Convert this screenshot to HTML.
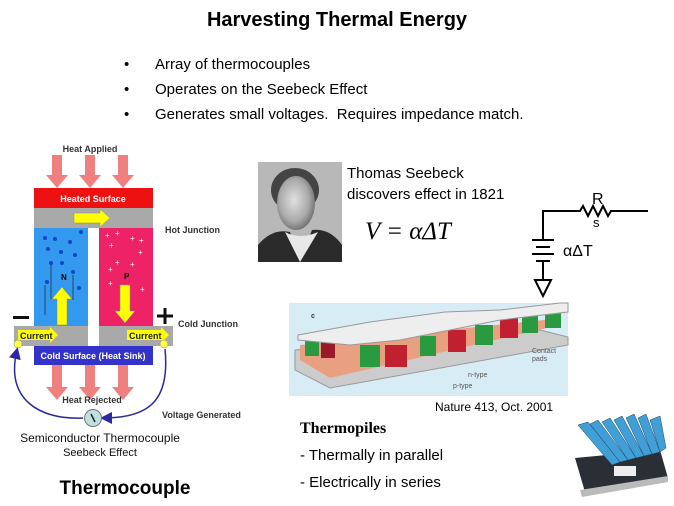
<!DOCTYPE html>
<html><head><meta charset="utf-8"><style>
body{margin:0;width:674px;height:506px;background:#fff;position:relative;overflow:hidden;font-family:"Liberation Sans",sans-serif}
.a{position:absolute;white-space:nowrap}
</style></head><body>
<div class="a" style="left:0;width:674px;top:9px;text-align:center;font-weight:bold;font-size:20px">Harvesting Thermal Energy</div>
<div class="a" style="left:124px;top:52px;font-size:15px;line-height:25px">•<br>•<br>•</div>
<div class="a" style="left:155px;top:52px;font-size:15px;line-height:25px">Array of thermocouples<br>Operates on the Seebeck Effect<br>Generates small voltages.&nbsp; Requires impedance match.</div>

<svg class="a" style="left:0;top:0" width="674" height="506">
<defs><marker id="m" markerWidth="8" markerHeight="8" refX="6" refY="4" orient="auto"><path d="M0,0L8,4L0,8z" fill="#2a2aa0"/></marker></defs>
<text x="90" y="152" font-size="9" font-weight="bold" text-anchor="middle" fill="#333">Heat Applied</text>
<g fill="#f08080">
<path d="M52,155h10v20h6l-11,13l-11,-13h6z"/><path d="M85,155h10v20h6l-11,13l-11,-13h6z"/><path d="M118,155h10v20h6l-11,13l-11,-13h6z"/>
<path d="M52,365h10v22h6l-11,13l-11,-13h6z"/><path d="M85,365h10v22h6l-11,13l-11,-13h6z"/><path d="M118,365h10v22h6l-11,13l-11,-13h6z"/>
</g>
<rect x="34" y="188" width="119" height="20" fill="#ee1111"/>
<text x="93" y="202" font-size="9" font-weight="bold" fill="#fff" text-anchor="middle">Heated Surface</text>
<rect x="34" y="208" width="119" height="20" fill="#a9a9a9"/>
<path d="M74,213h26v-4l10,9l-10,9v-4h-26z" fill="#ffff00" stroke="#888" stroke-width=".5"/>
<rect x="34" y="228" width="54" height="98" fill="#3399ee"/>
<rect x="99" y="228" width="54" height="98" fill="#ee2266"/>
<g fill="#1144cc"><circle cx="45" cy="238" r="2"/><circle cx="55" cy="239" r="2"/><circle cx="70" cy="242" r="2"/><circle cx="81" cy="232" r="2"/><circle cx="48" cy="249" r="2"/><circle cx="61" cy="252" r="2"/><circle cx="75" cy="255" r="2"/><circle cx="51" cy="263" r="2"/><circle cx="62" cy="263" r="2"/><circle cx="73" cy="272" r="2"/><circle cx="47" cy="282" r="2"/><circle cx="79" cy="288" r="2"/></g>
<g stroke="#222" stroke-width=".7"><line x1="51" y1="265" x2="51" y2="299"/><line x1="45" y1="285" x2="45" y2="315"/><line x1="73" y1="275" x2="73" y2="300"/></g>
<text x="61" y="280" font-size="8" font-weight="bold">N</text>
<text x="124" y="279" font-size="8" font-weight="bold">P</text>
<g fill="#fff" font-size="8"><text x="105" y="238">+</text><text x="115" y="236">+</text><text x="130" y="241">+</text><text x="139" y="243">+</text><text x="109" y="248">+</text><text x="138" y="255">+</text><text x="115" y="265">+</text><text x="130" y="267">+</text><text x="108" y="272">+</text><text x="108" y="286">+</text><text x="140" y="292">+</text></g>
<path d="M57,325v-26h-5l10,-12l10,12h-5v26z" fill="#ffff00" stroke="#888" stroke-width=".5"/>
<path d="M120,285v26h-5l10,12l10,-12h-5v-26z" fill="#ffff00" stroke="#888" stroke-width=".5"/>
<rect x="14" y="326" width="74" height="20" fill="#a9a9a9"/>
<rect x="99" y="326" width="74" height="20" fill="#a9a9a9"/>
<path d="M18,330h32v-3l8,8l-8,8v-3h-32z" fill="#ffff00"/><path d="M127,330h34v-3l8,8l-8,8v-3h-34z" fill="#ffff00"/>
<text x="20" y="339" font-size="9" font-weight="bold" fill="#222">Current</text>
<text x="129" y="339" font-size="9" font-weight="bold" fill="#222">Current</text>
<circle cx="18" cy="344" r="4" fill="#ffff44" stroke="#888" stroke-width=".5"/><circle cx="164" cy="344" r="4" fill="#ffff44" stroke="#888" stroke-width=".5"/>
<rect x="13" y="316" width="16" height="3" fill="#111"/>
<path d="M157,316h16M165,308v16" stroke="#111" stroke-width="3"/>
<rect x="34" y="346" width="119" height="19" fill="#3333cc"/>
<text x="93" y="359" font-size="9" font-weight="bold" fill="#fff" text-anchor="middle">Cold Surface (Heat Sink)</text>
<text x="165" y="233" font-size="9" font-weight="bold" fill="#333">Hot Junction</text>
<text x="178" y="327" font-size="9" font-weight="bold" fill="#333">Cold Junction</text>
<text x="92" y="403" font-size="9" font-weight="bold" fill="#333" text-anchor="middle">Heat Rejected</text>
<text x="162" y="418" font-size="9" font-weight="bold" fill="#333">Voltage Generated</text>
<path d="M83,418C40,420 5,400 17,350" fill="none" stroke="#2a2aa0" stroke-width="1.5" marker-end="url(#m)"/>
<path d="M165,349C170,400 150,418 103,418" fill="none" stroke="#2a2aa0" stroke-width="1.5" marker-end="url(#m)"/>
<circle cx="93" cy="418" r="8.5" fill="#bfe0e0" stroke="#777"/><line x1="91" y1="414" x2="95" y2="422" stroke="#222" stroke-width="1.5"/>
<text x="100" y="442" font-size="12" text-anchor="middle" fill="#111">Semiconductor Thermocouple</text>
<text x="100" y="456" font-size="11" text-anchor="middle" fill="#111">Seebeck Effect</text>
<text x="125" y="494" font-size="19" font-weight="bold" text-anchor="middle">Thermocouple</text>

<!-- portrait -->
<defs><radialGradient id="f" cx=".45" cy=".45" r=".55"><stop offset="0" stop-color="#e0e0e0"/><stop offset=".7" stop-color="#aaa"/><stop offset="1" stop-color="#777"/></radialGradient></defs>
<rect x="258" y="162" width="84" height="100" fill="#b8b8b8"/>
<ellipse cx="295" cy="190" rx="24" ry="22" fill="#444"/>
<ellipse cx="296" cy="203" rx="19" ry="27" fill="url(#f)"/>
<path d="M258,262 L258,245 Q272,228 290,232 L300,262z" fill="#2a2a2a"/>
<path d="M342,262 L342,245 Q330,228 312,230 L300,262z" fill="#2a2a2a"/>
<path d="M285,232 L300,262 L318,232 Q300,240 285,232z" fill="#e8e8e8"/>

<text x="347" y="178" font-size="15">Thomas  Seebeck</text>
<text x="347" y="199" font-size="15">discovers  effect in 1821</text>
<text x="365" y="239" font-size="25" font-style="italic" font-family="Liberation Serif">V = αΔT</text>

<!-- circuit -->
<g stroke="#000" stroke-width="2" fill="none">
<path d="M543,240V211H580l3,-5l5,10l5,-10l5,10l5,-10l5,10l3,-5H648"/>
<line x1="532" y1="240" x2="554" y2="240"/><line x1="536" y1="247" x2="550" y2="247"/><line x1="532" y1="254" x2="554" y2="254"/><line x1="536" y1="261" x2="550" y2="261"/>
<path d="M543,261V280M535,280h16l-8,16z"/>
</g>
<text x="592" y="204" font-size="16">R</text>
<text x="593" y="227" font-size="13">s</text>
<text x="563" y="256" font-size="16">αΔT</text>

<!-- thermopile -->
<rect x="289" y="303" width="279" height="93" fill="#d8ecf6"/>
<path d="M295,350L540,330L568,337L568,345L330,388L295,370z" fill="#ccc" stroke="#999"/>
<path d="M300,345L545,320L560,325L330,378L300,360z" fill="#e8a080"/>
<g>
<rect x="305" y="338" width="14" height="18" fill="#2a9a40"/><rect x="321" y="340" width="14" height="18" fill="#9a1a2a"/>
<rect x="360" y="345" width="20" height="22" fill="#2a9a40"/><rect x="385" y="345" width="22" height="22" fill="#c02030"/>
<rect x="420" y="336" width="16" height="20" fill="#2a9a40"/><rect x="448" y="330" width="18" height="22" fill="#c02030"/>
<rect x="475" y="325" width="18" height="20" fill="#2a9a40"/><rect x="500" y="318" width="18" height="20" fill="#c02030"/>
<rect x="522" y="313" width="16" height="20" fill="#2a9a40"/><rect x="545" y="308" width="16" height="20" fill="#2a9a40"/>
</g>
<path d="M298,335L370,322L400,318L445,312L500,310L560,303L568,303L568,312L500,320L400,340L350,345L298,340z" fill="#eee" stroke="#999"/>
<text x="311" y="318" font-size="7" font-weight="bold" fill="#333">c</text>
<text x="532" y="353" font-size="7" fill="#555">Contact</text><text x="532" y="361" font-size="7" fill="#555">pads</text>
<text x="468" y="377" font-size="7" fill="#555">n-type</text><text x="453" y="388" font-size="7" fill="#555">p-type</text>
<text x="435" y="411" font-size="12">Nature 413, Oct. 2001</text>

<text x="300" y="433" font-size="16" font-weight="bold" font-family="Liberation Serif">Thermopiles</text>
<text x="300" y="460" font-size="15">- Thermally in parallel</text>
<text x="300" y="487" font-size="15">- Electrically in series</text>

<!-- heatsink -->
<path d="M575,458L660,450L668,478L585,492z" fill="#2a2f35"/>
<path d="M580,490L668,476L668,482L582,497z" fill="#bbb"/>
<g fill="#3f9fd6" stroke="#246" stroke-width=".5">
<path d="M578,425L612,465L620,462L588,422z"/><path d="M590,424L620,462L628,460L598,420z"/><path d="M602,422L628,460L636,458L610,418z"/><path d="M614,420L636,458L644,456L622,416z"/><path d="M626,418L644,456L652,454L634,414z"/><path d="M638,418L652,454L660,452L646,414z"/><path d="M650,420L660,452L666,448L660,416z"/>
</g>
<rect x="614" y="466" width="22" height="10" fill="#eee"/>
</svg>
</body></html>
